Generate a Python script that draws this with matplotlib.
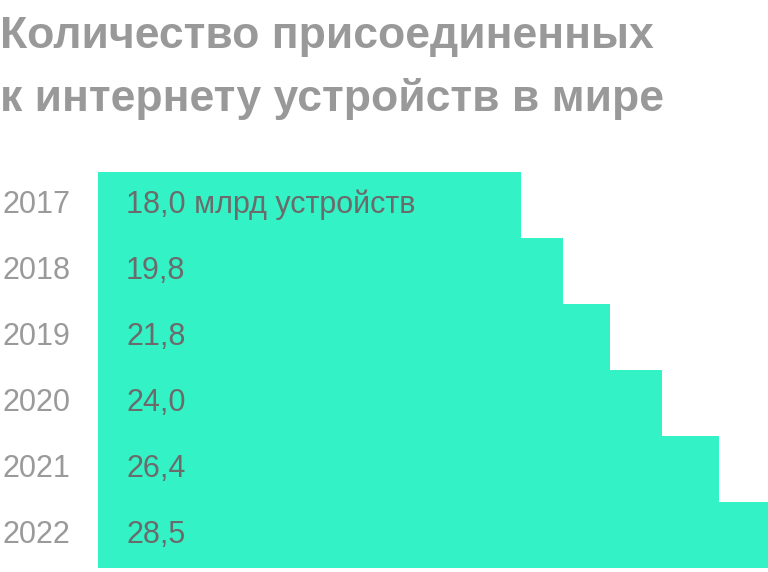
import matplotlib
matplotlib.use("Agg")
import matplotlib.pyplot as plt

# data
years = ["2017", "2018", "2019", "2020", "2021", "2022"]
devices = [18.0, 19.8, 21.8, 24.0, 26.4, 28.5]
labels = ["18,0 млрд устройств", "19,8", "21,8", "24,0", "26,4", "28,5"]

W, H = 768, 572
fig = plt.figure(figsize=(W / 100, H / 100), dpi=100)

# bars area in pixels: x 98..768, y 172..568
ax = fig.add_axes([98 / W, (H - 568) / H, (768 - 98) / W, (568 - 172) / H])
ypos = list(range(len(years)))
ax.barh(ypos, devices, height=1.0, color="#33F2C6", linewidth=0)
ax.set_xlim(0, 28.5)
ax.set_ylim(len(years) - 0.5, -0.5)
ax.axis("off")

fam = "Liberation Sans"
for i, (yr, lab) in enumerate(zip(years, labels)):
    ax.text(28 / 670 * 28.5, i, lab, ha="left", va="center",
            fontsize=22, color="#6b6b6b", family=fam)
    # years sit left of the bars
    fig.text(2 / W, 1 - (172 + 66 * i + 33) / H, yr, ha="left", va="center",
             fontsize=22, color="#9a9a9a", family=fam)

fig.text(0, 1 - 48 / H, "Количество присоединенных", ha="left", va="baseline",
         fontsize=32, fontweight="bold", color="#999999", family=fam)
fig.text(0, 1 - 111 / H, "к интернету устройств в мире", ha="left", va="baseline",
         fontsize=32, fontweight="bold", color="#999999", family=fam)

fig.savefig("out.png", dpi=100)
